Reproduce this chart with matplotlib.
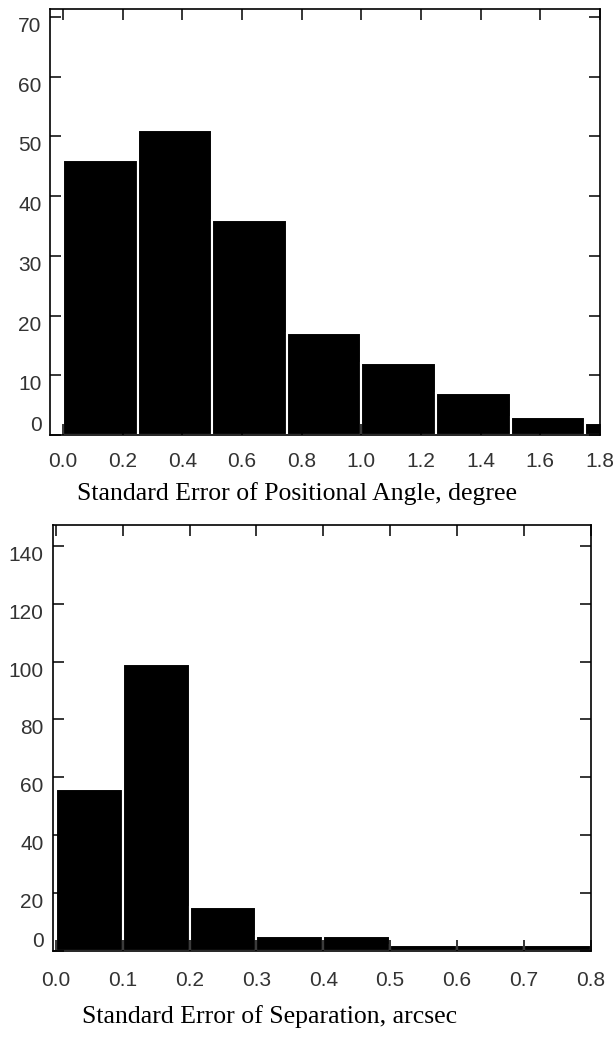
import numpy as np
import matplotlib
matplotlib.use("Agg")
import matplotlib.pyplot as plt
from matplotlib.ticker import FormatStrFormatter

# Histogram 1: standard error of positional angle (degree), bin width 0.25
pa_edges = [0.0, 0.25, 0.5, 0.75, 1.0, 1.25, 1.5, 1.75]
pa_counts = [46, 51, 36, 17, 12, 7, 3, 2]
pa_xticks = [0.0, 0.2, 0.4, 0.6, 0.8, 1.0, 1.2, 1.4, 1.6, 1.8]
pa_yticks = [0, 10, 20, 30, 40, 50, 60, 70]

# Histogram 2: standard error of separation (arcsec), bin width 0.1
sep_edges = [0.0, 0.1, 0.2, 0.3, 0.4, 0.5, 0.6, 0.7]
sep_counts = [56, 99, 15, 5, 5, 2, 2, 2]
sep_xticks = [0.0, 0.1, 0.2, 0.3, 0.4, 0.5, 0.6, 0.7, 0.8]
sep_yticks = [0, 20, 40, 60, 80, 100, 120, 140]

tick_font = ["Liberation Sans Narrow", "Liberation Sans"]
label_font = "Liberation Serif"

fig = plt.figure(figsize=(6.14, 10.37), dpi=100)
W, H = 614.0, 1037.0

def make_axes(l, r, t, b):
    return fig.add_axes([l / W, 1 - b / H, (r - l) / W, (b - t) / H])

def style(ax, xticks, yticks, xpad, ypad):
    ax.set_xticks(xticks)
    ax.set_yticks(yticks)
    ax.xaxis.set_major_formatter(FormatStrFormatter('%.1f'))
    ax.tick_params(direction='in', length=8, width=1.1, top=True, right=True,
                   labelsize=15, color='black')
    ax.tick_params(axis='x', pad=xpad)
    ax.tick_params(axis='y', pad=ypad)
    for lab in ax.get_xticklabels() + ax.get_yticklabels():
        lab.set_fontfamily(tick_font)
        lab.set_color('#333333')
    # labels hang below their tick, except the zero which sits above the axis
    for lab, v in zip(ax.get_yticklabels(), yticks):
        lab.set_va('bottom' if v == 0 else 'top')
    for s in ax.spines.values():
        s.set_linewidth(1.2)
        s.set_zorder(5)
    ax.set_axisbelow(False)

# top panel
ax1 = make_axes(50, 600, 8.5, 435)
ax1.bar(pa_edges, pa_counts, width=0.25, align='edge', color='black',
        edgecolor='white', linewidth=1.5)
ax1.set_xlim(-0.044, 1.8)
ax1.set_ylim(0, 71.4)
style(ax1, pa_xticks, pa_yticks, 12.5, 6)
fig.text(297 / W, 1 - 494 / H, "Standard Error of Positional Angle, degree",
         ha='center', va='center', fontsize=18.5, family=label_font)

# bottom panel
ax2 = make_axes(53.3, 590.7, 525, 950.7)
ax2.bar(sep_edges, sep_counts, width=0.1, align='edge', color='black',
        edgecolor='white', linewidth=1.5)
ax2.set_xlim(-0.004, 0.8)
ax2.set_ylim(0, 147.2)
style(ax2, sep_xticks, sep_yticks, 14.5, 7)
fig.text(270 / W, 1 - 1017 / H, "Standard Error of Separation, arcsec",
         ha='center', va='center', fontsize=18.5, family=label_font)

fig.savefig("out.png", dpi=100)
